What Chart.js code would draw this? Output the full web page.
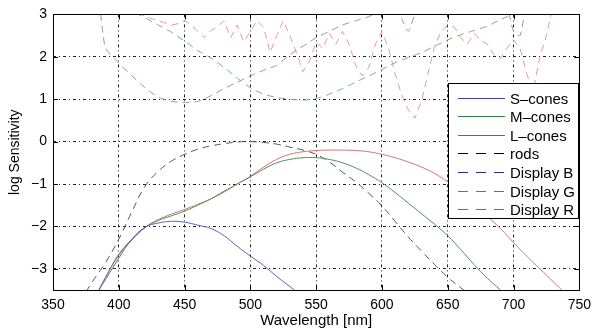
<!DOCTYPE html>
<html>
<head>
<meta charset="utf-8">
<script src="https://cdn.jsdelivr.net/npm/chart.js@4"></script>
<style>
  html, body { margin: 0; padding: 0; background: #fff; }
  #wrap { width: 598px; height: 331px; }
</style>
</head>
<body>
<div id="wrap"><canvas id="sens"></canvas></div>
<script>
// tick labels
const xTicks = [350, 400, 450, 500, 550, 600, 650, 700, 750];
const yTicks = [-3, -2, -1, 0, 1, 2, 3];

// cone / rod fundamentals (log sensitivity)
const sWl  = [380,385,390,400,410,420,430,440,450,460,470,480,490,500,510,520,530,540];
const sVal = [-3.85,-3.5,-3.25,-2.75,-2.3,-2.02,-1.92,-1.88,-1.9,-1.97,-2.05,-2.22,-2.47,-2.7,-2.92,-3.18,-3.42,-3.65];

const mWl  = [380,385,390,400,410,420,430,440,450,460,470,480,490,500,510,520,530,540,550,560,570,580,590,600,610,620,630,640,650,660,670,680,690,695];
const mVal = [-3.85,-3.5,-3.2,-2.68,-2.32,-2.03,-1.86,-1.75,-1.64,-1.5,-1.35,-1.17,-1.0,-0.83,-0.65,-0.5,-0.42,-0.38,-0.38,-0.42,-0.5,-0.62,-0.78,-0.97,-1.2,-1.45,-1.7,-1.95,-2.22,-2.55,-2.9,-3.22,-3.5,-3.65];

const lWl  = [380,385,390,400,410,420,430,440,450,460,470,480,490,500,510,520,530,540,550,560,570,580,590,600,610,620,630,640,650,660,670,680,690,700,710,720,730,740];
const lVal = [-3.85,-3.5,-3.2,-2.65,-2.3,-2.02,-1.84,-1.71,-1.6,-1.48,-1.35,-1.19,-1.0,-0.82,-0.6,-0.42,-0.3,-0.24,-0.21,-0.2,-0.2,-0.21,-0.24,-0.3,-0.38,-0.48,-0.6,-0.75,-0.95,-1.2,-1.47,-1.76,-2.05,-2.38,-2.7,-3.0,-3.3,-3.6];

const rodWl  = [375,380,390,400,410,420,430,440,450,460,470,480,490,500,510,520,530,540,550,560,570,580,590,600,610,620,630,640,650,660,670];
const rodVal = [-3.55,-3.3,-2.85,-2.3,-1.65,-1.05,-0.7,-0.46,-0.3,-0.18,-0.1,-0.05,-0.01,0,-0.02,-0.06,-0.13,-0.2,-0.3,-0.48,-0.72,-0.95,-1.22,-1.52,-1.88,-2.25,-2.58,-2.9,-3.2,-3.45,-3.7];

// display primaries
const dbWl  = [385,388,390,400,410,420,430,440,450,460,470,480,490,500,510,520,530,540,550,560,570,580,590,600,610,615,620,625,630,640,650,660,670,680,690,695,700,705,710,720];
const dbVal = [3.3,2.55,2.2,1.85,1.55,1.27,1.05,0.95,0.92,0.95,1.08,1.25,1.4,1.55,1.68,1.8,2.05,2.25,2.45,2.6,2.75,2.85,2.95,3.1,3.25,2.9,2.6,3.0,3.3,3.4,3.4,3.45,3.4,3.35,3.3,3.2,2.6,2.5,3.2,3.4];

const dgWl  = [405,410,420,430,440,450,460,470,480,490,500,510,520,530,540,550,560,570,580,590,600,610,620,630,640,650,660,670,680,690,700,710];
const dgVal = [3.2,3.08,2.92,2.75,2.58,2.37,2.15,1.97,1.75,1.5,1.27,1.12,1.04,1.0,0.98,1.02,1.12,1.25,1.4,1.55,1.7,1.86,1.98,2.1,2.25,2.4,2.52,2.62,2.72,2.88,3.0,3.15];

const drWl  = [410,415,420,425,430,435,440,445,450,455,460,465,470,475,480,485,490,495,500,505,510,515,520,525,530,535,540,545,550,555,560,565,570,575,580,585,590,595,600,605,610,615,620,625,630,635,640,645,650,655,660,665,670,675,680,685,690,695,700,705,710,715,720,725,730,735];
const drVal = [3.3,3.05,2.95,2.9,2.85,2.8,2.75,2.78,2.85,2.75,2.6,2.45,2.62,2.72,2.85,2.45,2.75,2.35,2.6,2.85,2.7,2.1,2.5,2.85,2.5,2.1,1.65,1.9,2.35,2.2,2.55,2.3,2.6,2.3,1.8,1.55,1.75,2.3,2.6,2.2,1.6,1.1,0.75,0.55,0.95,1.6,2.25,2.6,2.75,2.7,2.45,2.3,2.55,2.4,2.3,2.05,1.95,2.2,2.4,2.2,1.6,1.2,2.0,2.5,3.2,3.4];

const pts = (xs, ys) => xs.map((x, i) => ({ x: x, y: ys[i] }));

const FONT = '"Liberation Sans", Arial, Helvetica, sans-serif';

function series(label, xs, ys, color, key, dashed, tension) {
  return {
    label: label,
    data: pts(xs, ys),
    borderColor: color,
    keyColor: key,
    borderWidth: 1,
    borderDash: dashed ? [7, 5] : [],
    pointRadius: 0,
    tension: tension,
    fill: false
  };
}

// box, inward ticks and legend drawn on top, MATLAB style
const frame = {
  id: 'frame',
  afterDraw(chart) {
    const ctx = chart.ctx;
    const a = chart.chartArea;
    const xs = chart.scales.x, ys = chart.scales.y;
    ctx.save();
    ctx.strokeStyle = '#000';
    ctx.lineWidth = 1;
    ctx.setLineDash([]);
    ctx.beginPath();
    xTicks.forEach(v => {
      const px = Math.round(xs.getPixelForValue(v)) + 0.5;
      ctx.moveTo(px, a.bottom); ctx.lineTo(px, a.bottom - 5);
      ctx.moveTo(px, a.top); ctx.lineTo(px, a.top + 5);
    });
    yTicks.forEach(v => {
      const py = Math.round(ys.getPixelForValue(v)) + 0.5;
      ctx.moveTo(a.left, py); ctx.lineTo(a.left + 5, py);
      ctx.moveTo(a.right, py); ctx.lineTo(a.right - 5, py);
    });
    ctx.stroke();
    ctx.strokeRect(Math.round(a.left) + 0.5, Math.round(a.top) + 0.5,
      Math.round(a.right - a.left), Math.round(a.bottom - a.top));

    // legend
    const bx = 448, by = 83, bw = 130, bh = 135;
    ctx.fillStyle = '#fff';
    ctx.fillRect(bx, by, bw, bh);
    ctx.strokeRect(bx + 0.5, by + 0.5, bw, bh);
    ctx.font = '15px ' + FONT;
    ctx.textBaseline = 'middle';
    chart.data.datasets.forEach((ds, i) => {
      const y = Math.round(97.5 + i * 18.6) + 0.5;
      ctx.strokeStyle = ds.keyColor;
      ctx.setLineDash(ds.borderDash.length ? [10, 8] : []);
      ctx.beginPath();
      ctx.moveTo(458, y); ctx.lineTo(505, y);
      ctx.stroke();
      ctx.fillStyle = '#000';
      ctx.fillText(ds.label, 510, y + 1);
    });
    ctx.restore();
  }
};

const sensChart = new Chart(document.getElementById('sens'), {
  type: 'line',
  data: {
    datasets: [
      series('S\u2013cones', sWl, sVal, '#5a62bb', '#3a44a8', false, 0.4),
      series('M\u2013cones', mWl, mVal, '#4f8f5f', '#2f8040', false, 0.4),
      series('L\u2013cones', lWl, lVal, '#d27474', '#cc3c3c', false, 0.4),
      series('rods', rodWl, rodVal, '#555555', '#000000', true, 0.4),
      series('Display B', dbWl, dbVal, '#8e90cc', '#2c2c90', true, 0.2),
      series('Display G', dgWl, dgVal, '#8aaa90', '#2a9a3c', true, 0.3),
      series('Display R', drWl, drVal, '#e49a9a', '#e03a3a', true, 0)
    ]
  },
  options: {
    responsive: true,
    maintainAspectRatio: false,
    animation: false,
    layout: { padding: { top: 13, right: 13, left: 0, bottom: 0 } },
    plugins: {
      legend: { display: false },
      tooltip: { enabled: false }
    },
    scales: {
      x: {
        type: 'linear',
        min: 350, max: 750,
        afterBuildTicks: s => { s.ticks = xTicks.map(v => ({ value: v })); },
        afterFit: s => { s.height = 41; },
        grid: { color: '#222', lineWidth: 1, drawTicks: false },
        border: { display: false, dash: [3, 3, 1, 3] },
        ticks: { color: '#000', padding: 7, maxRotation: 0, font: { family: FONT, size: 14 } },
        title: { display: true, text: 'Wavelength [nm]', color: '#000', padding: { top: 0, bottom: 1 }, font: { family: FONT, size: 15 } }
      },
      y: {
        min: -3.5, max: 3,
        afterBuildTicks: s => { s.ticks = yTicks.map(v => ({ value: v })); },
        afterFit: s => { s.width = 53; },
        grid: { color: '#222', lineWidth: 1, drawTicks: false },
        border: { display: false, dash: [3, 3, 1, 3] },
        ticks: {
          color: '#000', padding: 6,
          font: { family: FONT, size: 14 },
          callback: v => String(v).replace('-', '\u2212')
        },
        title: { display: true, text: 'log Sensitivity', color: '#000', padding: { top: 7, bottom: 0 }, font: { family: FONT, size: 14 } }
      }
    }
  },
  plugins: [frame]
});
</script>
</body>
</html>
